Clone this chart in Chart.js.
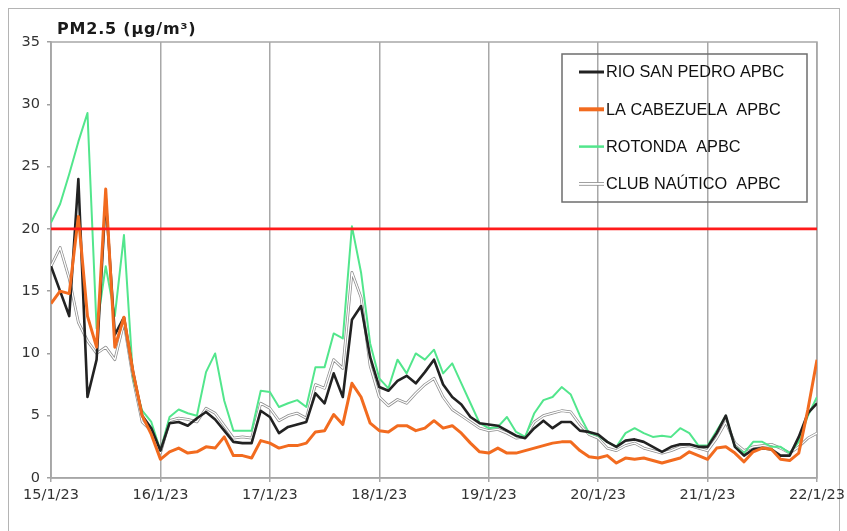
<!DOCTYPE html>
<html><head><meta charset="utf-8">
<script src="https://cdn.jsdelivr.net/npm/chart.js@4.4.0/dist/chart.umd.min.js"></script>
<style>
html,body{margin:0;padding:0;background:#fff;}
#wrap{position:relative;width:847px;height:531px;overflow:hidden;}
#frame{position:absolute;left:8px;top:8px;width:832px;height:540px;border:1.5px solid #b4b4b4;box-sizing:border-box;}
canvas{position:absolute;left:0;top:0;}
</style></head><body>
<div id="wrap"><div id="frame"></div><canvas id="c" width="847" height="531"></canvas></div>
<script>
// ---- data ----
const chartTitle = 'PM2.5 (µg/m³)';
const dateLabels = ['15/1/23','16/1/23','17/1/23','18/1/23','19/1/23','20/1/23','21/1/23','22/1/23'];
const stepHours = 2; // one reading every 2 hours from 15/1/23 00:00
const limitValue = 20;
const seriesNames = ['RIO SAN PEDRO APBC','LA CABEZUELA  APBC','ROTONDA  APBC','CLUB NAÚTICO  APBC'];

const rioSanPedro = [17.0,15.0,13.0,24.0,6.5,9.5,22.5,11.5,12.9,8.5,5.0,4.0,
  2.2,4.4,4.5,4.2,4.8,5.3,4.7,3.8,2.9,2.8,2.8,5.4,
  4.9,3.6,4.1,4.3,4.5,6.8,6.0,8.4,6.5,12.7,13.8,9.7,
  7.3,7.0,7.8,8.2,7.6,8.5,9.5,7.5,6.5,5.9,4.9,4.4,
  4.3,4.2,3.8,3.4,3.2,4.0,4.6,4.0,4.5,4.5,3.8,3.7,
  3.5,2.9,2.5,3.0,3.1,2.9,2.5,2.1,2.5,2.7,2.7,2.5,
  2.5,3.6,5.0,2.5,1.8,2.3,2.4,2.3,1.8,1.8,3.3,5.2,6.0];

const laCabezuela = [14.0,15.0,14.8,21.0,13.0,10.5,23.2,10.5,12.9,8.5,5.0,3.5,
  1.5,2.1,2.4,2.0,2.1,2.5,2.4,3.3,1.8,1.8,1.6,3.0,
  2.8,2.4,2.6,2.6,2.8,3.7,3.8,5.1,4.3,7.6,6.5,4.4,
  3.8,3.7,4.2,4.2,3.8,4.0,4.6,4.0,4.2,3.6,2.8,2.1,
  2.0,2.4,2.0,2.0,2.2,2.4,2.6,2.8,2.9,2.9,2.2,1.7,
  1.6,1.8,1.2,1.6,1.5,1.6,1.4,1.2,1.4,1.6,2.1,1.8,
  1.5,2.4,2.5,2.0,1.3,2.1,2.4,2.3,1.5,1.4,2.0,5.5,9.5];

const rotonda = [20.5,22.0,24.4,27.0,29.3,12.0,17.0,13.0,19.5,8.0,5.4,4.5,
  2.2,4.9,5.5,5.2,5.0,8.5,10.0,6.2,3.8,3.8,3.8,7.0,
  6.9,5.7,6.0,6.25,5.7,8.9,8.9,11.6,11.2,20.2,16.5,10.8,
  8.0,7.2,9.5,8.4,10.0,9.5,10.3,8.4,9.2,7.6,6.0,4.4,
  4.0,4.1,4.9,3.7,3.3,5.2,6.25,6.5,7.3,6.7,5.0,3.6,
  3.4,2.9,2.5,3.6,4.0,3.6,3.3,3.4,3.3,4.0,3.6,2.6,
  2.6,3.8,5.0,2.5,2.0,2.9,2.9,2.5,2.5,2.0,2.9,5.0,6.5];

const clubNautico = [17.0,18.5,16.0,12.5,11.0,10.0,10.5,9.5,12.5,8.0,4.5,3.8,
  2.0,4.6,4.8,4.7,4.5,5.6,5.2,4.2,3.2,3.3,3.2,6.0,
  5.6,4.6,5.0,5.2,4.8,7.5,7.2,9.5,8.8,16.5,14.5,9.0,
  6.5,5.8,6.3,6.0,6.8,7.5,8.0,6.5,5.5,5.0,4.5,4.0,
  3.8,3.9,3.6,3.2,3.3,4.5,5.0,5.2,5.4,5.3,4.3,3.5,
  3.2,2.4,2.2,2.6,2.8,2.4,2.2,2.0,2.2,2.5,2.6,2.4,
  2.2,3.2,4.5,2.8,2.2,2.5,2.6,2.7,2.4,2.0,2.5,3.2,3.6];

const colors = {rio:'#222222', cab:'#f26b1f', rot:'#52e68c', clubEdge:'#8c8c8c', clubFill:'#ffffff', limit:'#ff1a1a'};

function pts(arr){ return arr.map((v,i)=>({x:i*stepHours, y:v})); }
const totalHours = (dateLabels.length-1)*24;

const datasets = [
  {label:'limit', data:[{x:0,y:limitValue},{x:totalHours,y:limitValue}], borderColor:colors.limit, borderWidth:2.8},
  {label:seriesNames[1], data:pts(laCabezuela), borderColor:colors.cab, borderWidth:3},
  {label:seriesNames[0], data:pts(rioSanPedro), borderColor:colors.rio, borderWidth:2.6},
  {label:seriesNames[2], data:pts(rotonda), borderColor:colors.rot, borderWidth:2},
  {label:seriesNames[3], data:pts(clubNautico), borderColor:colors.clubFill, borderWidth:1.3},
  {label:seriesNames[3]+' edge', data:pts(clubNautico), borderColor:colors.clubEdge, borderWidth:2.8},
];
datasets.forEach(d=>{d.pointRadius=0; d.tension=0; d.fill=false; d.borderJoinStyle='round';});

const legendItems = [
  {name:seriesNames[0], color:colors.rio, w:3},
  {name:seriesNames[1], color:colors.cab, w:4},
  {name:seriesNames[2], color:colors.rot, w:2.5},
  {name:seriesNames[3], color:colors.clubFill, w:2, edge:colors.clubEdge},
];

const decor = {
  id:'decor',
  beforeDatasetsDraw(chart){
    const {ctx, chartArea:a} = chart;
    ctx.save();
    ctx.strokeStyle='#a8a8a8'; ctx.lineWidth=1.5;
    ctx.strokeRect(a.left, a.top, a.right-a.left, a.bottom-a.top);
    ctx.restore();
  },
  afterDraw(chart){
    const {ctx, chartArea:a} = chart;
    ctx.save();
    // title
    ctx.fillStyle='#1a1a1a';
    ctx.font='bold 16px "DejaVu Sans"';
    ctx.letterSpacing='0.8px';
    ctx.textBaseline='alphabetic';
    ctx.fillText(chartTitle, a.left+6, a.top-8);
    ctx.letterSpacing='0px';
    // legend
    const bx=562, by=54, bw=245, bh=148;
    ctx.strokeStyle='#6e6e6e'; ctx.lineWidth=1.5;
    ctx.strokeRect(bx,by,bw,bh);
    ctx.font='16.3px "Liberation Sans"';
    ctx.textBaseline='middle';
    legendItems.forEach((it,i)=>{
      const y = 72 + i*37.3;
      ctx.lineCap='butt';
      if(it.edge){ ctx.strokeStyle=it.edge; ctx.lineWidth=it.w+1.6; ctx.beginPath(); ctx.moveTo(579,y); ctx.lineTo(604,y); ctx.stroke(); }
      ctx.strokeStyle=it.color; ctx.lineWidth=it.w;
      ctx.beginPath(); ctx.moveTo(579,y); ctx.lineTo(604,y); ctx.stroke();
      ctx.fillStyle='#111';
      ctx.fillText(it.name, 606, y+1);
    });
    ctx.restore();
  }
};

new Chart(document.getElementById('c'), {
  type:'line',
  data:{datasets},
  options:{
    responsive:false, animation:false, events:[],
    layout:{padding:{left:0,right:30,top:42,bottom:0}},
    plugins:{legend:{display:false}, tooltip:{enabled:false}, title:{display:false}},
    scales:{
      x:{type:'linear', min:0, max:totalHours,
        afterFit(s){ s.height=53; s.paddingLeft=0; s.paddingRight=0; },
        ticks:{stepSize:24, autoSkip:false, maxRotation:0, padding:5, color:'#333',
          font:{family:'DejaVu Sans', size:14.5},
          callback:(v)=> (v%24===0 ? dateLabels[v/24] : '')},
        grid:{color:'#a8a8a8', lineWidth:1.5, tickLength:4, drawTicks:true},
        border:{display:true, color:'#a0a0a0', width:1.5}
      },
      y:{min:0, max:35,
        afterFit(s){ s.width=51; },
        ticks:{stepSize:5, padding:7, color:'#333', font:{family:'DejaVu Sans', size:14.5}},
        grid:{drawOnChartArea:false, drawTicks:true, tickLength:4, color:'#a0a0a0', lineWidth:1.5},
        border:{display:true, color:'#a0a0a0', width:1.5}
      }
    }
  },
  plugins:[decor]
});
</script>
</body></html>
